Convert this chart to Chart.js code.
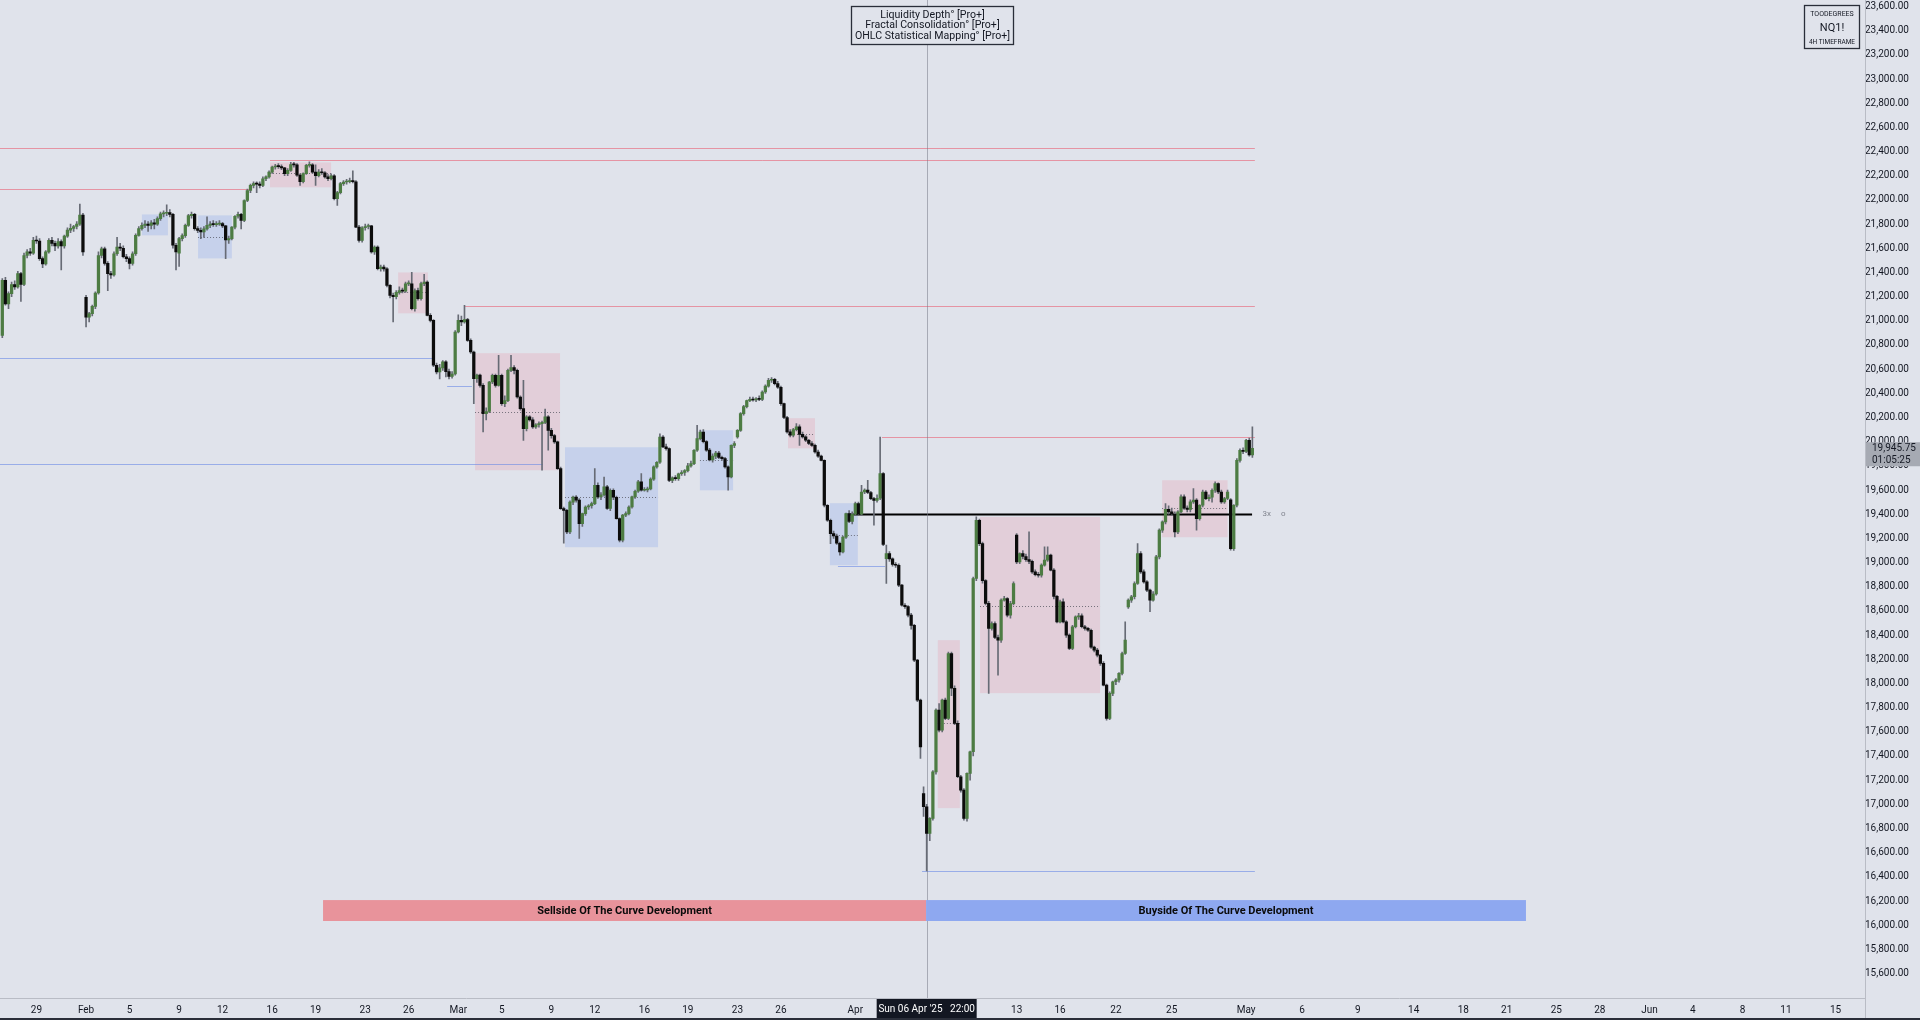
<!DOCTYPE html>
<html>
<head>
<meta charset="utf-8">
<title>NQ1! 4H</title>
<script src="https://cdn.jsdelivr.net/npm/chart.js@4.4.1/dist/chart.umd.min.js"></script>
<style>
  html, body { margin: 0; padding: 0; background: #e0e3eb; overflow: hidden; }
  #wrap { position: relative; width: 1920px; height: 1020px; }
</style>
</head>
<body>
<div id="wrap"><canvas id="chart"></canvas></div>
<script>
// 4h bars, 6 per trading day; bar 0 = Sun 26 Jan 18:00, first visible bar is #3
const FIRST_BAR = 3;

const opens = [
  20880, 21335, 21140,
  21225, 21300, 21280, 21390, 21300, 21540,
  21570, 21560, 21665, 21660, 21515, 21470,
  21570, 21665, 21640, 21620, 21655, 21620,
  21700, 21750, 21765, 21780, 21800, 21875,
  21195, 21030, 21060, 21120, 21230, 21540,
  21595, 21475, 21390, 21380, 21555, 21610,
  21600, 21530, 21515, 21475, 21555, 21707,
  21762, 21790, 21800, 21790, 21810, 21800,
  21845, 21885, 21890, 21895, 21880, 21625,
  21560, 21680, 21705, 21790, 21870, 21880,
  21762, 21748, 21735, 21760, 21790, 21800,
  21795, 21800, 21805, 21785, 21670, 21680,
  21775, 21865, 21880, 21830, 21995, 22078,
  22120, 22135, 22130, 22120, 22175, 22190,
  22230, 22272, 22280, 22275, 22265, 22217,
  22245, 22293, 22290, 22205, 22150, 22217,
  22286, 22290, 22230, 22200, 22230, 22225,
  22190, 22175, 22200, 22010, 22060, 22135,
  22148, 22150, 22160, 22150, 21775, 21665,
  21770, 21780, 21785, 21570, 21610, 21431,
  21445, 21430, 21293, 21210, 21200, 21235,
  21250, 21245, 21305, 21305, 21100, 21250,
  21183, 21307, 21320, 21045, 21003, 20632,
  20577, 20610, 20660, 20580, 20540, 20560,
  20907, 21004, 20990, 21010, 20838, 20742,
  20521, 20550, 20466, 20232, 20250, 20494,
  20548, 20466, 20549, 20315, 20340, 20590,
  20612, 20590, 20370, 20274, 20108, 20205,
  20180, 20122, 20140, 20150, 20160, 20205,
  20094, 20050, 19998, 19777, 19446, 19432,
  19254, 19500, 19542, 19516, 19322, 19405,
  19460, 19470, 19488, 19640, 19543, 19560,
  19626, 19447, 19598, 19540, 19364, 19185,
  19392, 19405, 19460, 19543, 19590, 19667,
  19598, 19600, 19610, 19690, 19791, 19830,
  20039, 19957, 19943, 19680, 19700, 19695,
  19735, 19745, 19760, 19800, 19819, 19929,
  20025, 20080, 20000, 19930, 19850, 19880,
  19905, 19870, 19860, 19791, 19708, 19970,
  20040, 20094, 20232, 20290, 20340, 20350,
  20345, 20355, 20350, 20411, 20460, 20508,
  20515, 20480, 20450, 20315, 20200, 20081,
  20053, 20100, 20122, 20060, 20040, 20012,
  19985, 19970, 19915, 19880, 19846, 19474,
  19350, 19240, 19220, 19160, 19088, 19210,
  19405, 19340, 19400, 19488, 19400, 19584,
  19600, 19580, 19529, 19515, 19532, 19736,
  19033, 19075, 19030, 18985, 18978, 18813,
  18647, 18635, 18565, 18480, 18193, 17862,
  17090, 16980, 16760, 16884, 17269, 17779,
  17614, 17862, 17710, 18248, 17960, 17670,
  17228, 17118, 16884, 17256, 17435, 18868,
  19350, 19157, 18850, 18662, 18455, 18496,
  18380, 18358, 18689, 18703, 18565, 18660,
  19227, 19006, 19075, 19050, 19025, 19010,
  18923, 18900, 18895, 18979, 19020, 19061,
  18937, 18720, 18510, 18675, 18510, 18400,
  18290, 18469, 18551, 18560, 18469, 18455,
  18440, 18300, 18276, 18234, 18166, 17986,
  17711, 17918, 18014, 18030, 18083, 18248,
  18634, 18690, 18717, 18827, 19075, 18923,
  18840, 18772, 18689, 18740, 19047, 19268,
  19337, 19440, 19420, 19400, 19254, 19419,
  19543, 19450, 19440, 19502, 19516, 19364,
  19474, 19584, 19529, 19540, 19598, 19653,
  19584, 19502, 19530, 19520, 19116, 19474,
  19846, 19929, 19920, 20012, 19890
];

const highs = [
  21350, 21360, 21240,
  21320, 21330, 21410, 21400, 21560, 21590,
  21600, 21690, 21700, 21680, 21530, 21580,
  21680, 21690, 21660, 21680, 21670, 21710,
  21770, 21800, 21790, 21820, 21965, 21890,
  21210, 21070, 21130, 21240, 21570, 21610,
  21610, 21490, 21410, 21570, 21690, 21640,
  21620, 21550, 21530, 21570, 21720, 21780,
  21810, 21830, 21820, 21830, 21840, 21860,
  21900, 21910, 21960, 21920, 21890, 21640,
  21690, 21720, 21800, 21880, 21900, 21890,
  21780, 21770, 21780, 21860, 21820, 21830,
  21820, 21830, 21815, 21790, 21700, 21780,
  21870, 21900, 21890, 22000, 22090, 22130,
  22150, 22150, 22150, 22190, 22200, 22240,
  22280, 22295, 22300, 22290, 22270, 22260,
  22310, 22310, 22300, 22215, 22225, 22295,
  22315, 22300, 22290, 22250, 22260, 22235,
  22210, 22215, 22210, 22070, 22145, 22160,
  22170, 22180, 22240, 22160, 21790, 21780,
  21800, 21800, 21790, 21620, 21620, 21460,
  21460, 21440, 21300, 21230, 21250, 21280,
  21270, 21320, 21330, 21400, 21265, 21270,
  21320, 21385, 21330, 21060, 21010, 20650,
  20640, 20670, 20670, 20600, 20580, 20920,
  21050, 21040, 21128, 21020, 20850, 20750,
  20560, 20560, 20480, 20280, 20500, 20560,
  20560, 20714, 20560, 20380, 20600, 20714,
  20630, 20600, 20380, 20508, 20215, 20215,
  20200, 20150, 20165, 20170, 20270, 20215,
  20110, 20060, 20005, 19790, 19460, 19440,
  19510, 19550, 19555, 19530, 19410, 19470,
  19480, 19500, 19777, 19660, 19580, 19708,
  19640, 19610, 19610, 19550, 19370, 19400,
  19420, 19470, 19550, 19600, 19680, 19736,
  19620, 19625, 19700, 19800, 19835, 20066,
  20050, 19980, 19950, 19710, 19720, 19740,
  19760, 19770, 19820, 19840, 19935, 20135,
  20095, 20100, 20010, 19945, 19900, 19920,
  19920, 19880, 19870, 19800, 19975, 20000,
  20100, 20240, 20300, 20345, 20370, 20370,
  20365, 20380, 20420, 20470, 20525, 20530,
  20525, 20500, 20460, 20320, 20210, 20100,
  20110, 20150, 20140, 20080, 20050, 20020,
  20000, 19980, 19930, 19890, 19850, 19480,
  19360, 19260, 19235, 19170, 19220, 19410,
  19430, 19420, 19500, 19500, 19640, 19610,
  19680, 19590, 19540, 19560, 20039, 19745,
  19144, 19090, 19040, 19000, 18990, 18820,
  18660, 18645, 18580, 18490, 18200, 17870,
  17145, 17000, 16890, 17280, 17790, 17834,
  17870, 17880, 18260, 18260, 17980, 17690,
  17240, 17130, 17260, 17440, 18880, 19378,
  19360, 19170, 18860, 18680, 18510, 18510,
  18400, 18700, 18720, 18710, 18680, 18840,
  19240, 19080, 19100, 19070, 19254, 19020,
  18940, 18920, 18990, 19130, 19130, 19070,
  18950, 18730, 18690, 18700, 18520, 18410,
  18480, 18560, 18580, 18575, 18480, 18465,
  18450, 18310, 18290, 18240, 18180, 17995,
  17930, 18020, 18040, 18090, 18260, 18510,
  18700, 18730, 18840, 19158, 19090, 18940,
  18850, 18780, 18760, 19060, 19280, 19345,
  19488, 19470, 19450, 19420, 19430, 19560,
  19560, 19470, 19520, 19612, 19530, 19480,
  19600, 19595, 19560, 19610, 19667, 19660,
  19600, 19540, 19600, 19530, 19480, 19860,
  19940, 19950, 20020, 20030, 20122
];

const lows = [
  20860, 21130, 21100,
  21200, 21260, 21270, 21160, 21290, 21520,
  21540, 21550, 21640, 21500, 21440, 21460,
  21560, 21620, 21580, 21600, 21420, 21600,
  21690, 21730, 21740, 21760, 21790, 21540,
  20950, 20990, 21040, 21100, 21220, 21520,
  21460, 21250, 21350, 21370, 21540, 21580,
  21520, 21490, 21430, 21460, 21540, 21700,
  21750, 21770, 21740, 21760, 21760, 21790,
  21830, 21860, 21870, 21860, 21600, 21420,
  21450, 21660, 21690, 21780, 21850, 21750,
  21730, 21680, 21690, 21750, 21770, 21780,
  21780, 21790, 21770, 21515, 21640, 21670,
  21760, 21850, 21760, 21820, 21985, 22060,
  22100, 22060, 22100, 22110, 22160, 22180,
  22220, 22255, 22260, 22250, 22200, 22200,
  22235, 22270, 22195, 22120, 22140, 22210,
  22270, 22220, 22120, 22190, 22210, 22180,
  22160, 22165, 22000, 21955, 22050, 22120,
  22130, 22140, 22140, 21770, 21650, 21650,
  21750, 21760, 21560, 21550, 21420, 21410,
  21410, 21280, 21190, 20990, 21180, 21220,
  21230, 21235, 21290, 21090, 21080, 21170,
  21170, 21290, 21040, 20990, 20620, 20560,
  20520, 20590, 20535, 20520, 20525, 20550,
  20900, 20960, 20980, 20830, 20730, 20315,
  20490, 20450, 20080, 20180, 20240, 20480,
  20450, 20460, 20300, 20290, 20330, 20580,
  20560, 20360, 20260, 20010, 20090, 20170,
  20110, 20110, 20120, 19765, 20150, 19930,
  20030, 19985, 19770, 19440, 19160, 19240,
  19240, 19480, 19500, 19200, 19300, 19390,
  19440, 19450, 19480, 19530, 19520, 19550,
  19440, 19430, 19520, 19360, 19170, 19170,
  19380, 19395, 19450, 19530, 19580, 19590,
  19590, 19585, 19600, 19680, 19780, 19820,
  19950, 19930, 19670, 19660, 19680, 19680,
  19720, 19720, 19750, 19790, 19810, 19920,
  20015, 19990, 19920, 19840, 19830, 19860,
  19860, 19845, 19780, 19598, 19700, 19950,
  20030, 20085, 20220, 20280, 20330, 20335,
  20330, 20340, 20340, 20400, 20450, 20490,
  20470, 20440, 20300, 20190, 20070, 20040,
  20040, 20090, 19970, 20030, 20000, 19975,
  19960, 19905, 19870, 19840, 19460, 19340,
  19157, 19200, 19150, 19061, 19080, 19200,
  19330, 19320, 19390, 19390, 19390, 19570,
  19570, 19520, 19310, 19500, 19520, 19140,
  18827, 19010, 18970, 18960, 18800, 18640,
  18620, 18550, 18450, 18180, 17850, 17380,
  16900, 16450, 16700, 16870, 17250, 17600,
  17600, 17700, 17700, 17900, 17660, 17220,
  17100, 16870, 16860, 17200, 17400, 18850,
  19140, 18830, 18650, 17918, 18440, 18370,
  18069, 18340, 18680, 18550, 18540, 18650,
  18990, 18990, 19030, 19010, 18990, 18910,
  18890, 18880, 18880, 18970, 19010, 18930,
  18700, 18500, 18500, 18500, 18380, 18280,
  18280, 18460, 18530, 18460, 18440, 18430,
  18290, 18260, 18220, 18150, 17980, 17697,
  17700, 17900, 17990, 18010, 18070, 18240,
  18620, 18670, 18700, 18820, 18910, 18830,
  18760, 18593, 18680, 18730, 19030, 19250,
  19320, 19400, 19390, 19213, 19240, 19410,
  19440, 19420, 19420, 19490, 19268, 19350,
  19460, 19520, 19510, 19500, 19580, 19570,
  19490, 19490, 19520, 19102, 19100, 19460,
  19830, 19900, 19910, 19880, 19870
];

const closes = [
  21335, 21140, 21225,
  21300, 21280, 21390, 21300, 21540, 21570,
  21560, 21665, 21660, 21515, 21470, 21570,
  21665, 21640, 21620, 21655, 21620, 21700,
  21750, 21765, 21780, 21800, 21875, 21570,
  21030, 21060, 21120, 21230, 21540, 21595,
  21475, 21390, 21380, 21555, 21610, 21600,
  21530, 21515, 21475, 21555, 21707, 21762,
  21790, 21800, 21790, 21810, 21800, 21845,
  21885, 21890, 21895, 21880, 21625, 21570,
  21680, 21705, 21790, 21870, 21880, 21762,
  21748, 21735, 21760, 21790, 21800, 21795,
  21800, 21805, 21785, 21670, 21680, 21775,
  21865, 21880, 21830, 21995, 22078, 22120,
  22135, 22130, 22120, 22175, 22190, 22230,
  22272, 22280, 22275, 22265, 22217, 22245,
  22293, 22290, 22205, 22150, 22217, 22286,
  22290, 22230, 22200, 22230, 22225, 22190,
  22175, 22200, 22010, 22060, 22135, 22148,
  22150, 22160, 22150, 21775, 21665, 21770,
  21780, 21785, 21570, 21610, 21431, 21445,
  21430, 21293, 21210, 21200, 21235, 21250,
  21245, 21305, 21305, 21100, 21250, 21183,
  21307, 21320, 21045, 21003, 20632, 20577,
  20610, 20660, 20580, 20540, 20560, 20907,
  21004, 20990, 21010, 20838, 20742, 20521,
  20550, 20466, 20232, 20250, 20494, 20548,
  20466, 20549, 20315, 20340, 20590, 20612,
  20590, 20370, 20274, 20108, 20205, 20180,
  20122, 20140, 20150, 20160, 20205, 20094,
  20050, 19998, 19777, 19446, 19432, 19254,
  19500, 19542, 19516, 19322, 19405, 19460,
  19470, 19488, 19640, 19543, 19560, 19626,
  19447, 19598, 19540, 19364, 19185, 19392,
  19405, 19460, 19543, 19590, 19667, 19598,
  19600, 19610, 19690, 19791, 19830, 20039,
  19957, 19943, 19680, 19700, 19695, 19735,
  19745, 19760, 19800, 19819, 19929, 20025,
  20080, 20000, 19930, 19850, 19880, 19905,
  19870, 19860, 19791, 19708, 19970, 19985,
  20094, 20232, 20290, 20340, 20350, 20345,
  20355, 20350, 20411, 20460, 20508, 20515,
  20480, 20450, 20315, 20200, 20081, 20053,
  20100, 20122, 20060, 20040, 20012, 19985,
  19970, 19915, 19880, 19846, 19474, 19350,
  19240, 19220, 19160, 19088, 19210, 19405,
  19340, 19400, 19488, 19400, 19584, 19600,
  19580, 19529, 19515, 19532, 19736, 19150,
  19075, 19030, 18985, 18978, 18813, 18647,
  18635, 18565, 18480, 18193, 17862, 17476,
  16980, 16760, 16884, 17269, 17779, 17614,
  17862, 17710, 18248, 17960, 17670, 17228,
  17118, 16884, 17256, 17435, 18868, 19350,
  19157, 18850, 18662, 18455, 18496, 18380,
  18358, 18689, 18703, 18565, 18660, 18827,
  19006, 19075, 19050, 19025, 19010, 18923,
  18900, 18895, 18979, 19020, 19061, 18937,
  18720, 18510, 18675, 18510, 18400, 18290,
  18469, 18551, 18560, 18469, 18455, 18440,
  18300, 18276, 18234, 18166, 17986, 17711,
  17918, 18014, 18030, 18083, 18248, 18358,
  18690, 18717, 18827, 19075, 18923, 18840,
  18772, 18689, 18740, 19047, 19268, 19337,
  19440, 19420, 19400, 19254, 19419, 19543,
  19450, 19440, 19502, 19516, 19364, 19474,
  19584, 19529, 19540, 19598, 19653, 19584,
  19502, 19530, 19584, 19116, 19474, 19846,
  19929, 19920, 20012, 19890, 19945.75
];

// time axis labels (bar index -> text)
const timeTicks = [14, 30, 44, 60, 74, 90, 104, 120, 134, 150, 164, 180, 194, 210, 224, 240, 254, 278,
                   330, 344, 362, 380, 404, 422, 440, 458, 474, 488, 504, 518, 534, 548, 564, 578, 594];
const timeLabels = ['29', 'Feb', '5', '9', '12', '16', '19', '23', '26', 'Mar', '5', '9', '12', '16', '19', '23', '26', 'Apr',
                    '13', '16', '22', '25', 'May', '6', '9', '14', '18', '21', '25', '28', 'Jun', '4', '8', '11', '15'];

const priceTicks = [15600, 15800, 16000, 16200, 16400, 16600, 16800, 17000, 17200, 17400, 17600, 17800,
                    18000, 18200, 18400, 18600, 18800, 19000, 19200, 19400, 19600, 19800, 20000, 20200,
                    20400, 20600, 20800, 21000, 21200, 21400, 21600, 21800, 22000, 22200, 22400, 22600,
                    22800, 23000, 23200, 23400, 23600];

// consolidation zones (bar index range, price range, midline)
const zoneStart = [89.3, 48, 66.1, 130.6, 155.4, 184.4, 227.9, 256.3, 269.8, 304.6, 318.2, 376.9];
const zoneEnd   = [109, 56.4, 77, 140.2, 182.8, 214.4, 238.6, 265, 278.8, 311.7, 356.9, 398];
const zoneHigh  = [22310, 21880, 21872, 21400, 20732, 19954, 20095, 20194, 19491, 18358, 19378, 19681];
const zoneLow   = [22104, 21707, 21516, 21062, 19764, 19127, 19598, 19945, 18978, 16969, 17920, 19210];
const zoneMid   = [22220, null, 21690, 21235, 20243, 19540, 19846, 20061, 19226, 17672, 18640, 19450];
const zoneKind  = ['sell', 'buy', 'buy', 'sell', 'sell', 'buy', 'buy', 'sell', 'buy', 'sell', 'sell', 'sell'];

// liquidity levels
const levelPrice = [22426, 22327, 22093, 20693, 19813, 20458, 21120, 20039, 18970, 16452, 19400];
const levelStart = [2, 89.3, 2, 2, 2, 146.4, 152.2, 286.6, 272.4, 299.5, 275.6];
const levelEnd   = [406.8, 406.8, 82.8, 141.8, 177.3, 154.4, 406.8, 406.8, 287.6, 406.8, 405.9];
const levelKind  = ['sell', 'sell', 'sell', 'buy', 'buy', 'buy', 'sell', 'sell', 'buy', 'buy', 'key'];

// curve development bands
const bandStart = [106.4, 300.8];
const bandEnd = [300.8, 494.2];
const bandHigh = 16208;
const bandLow = 16035;
const bandText = ['Sellside Of The Curve Development', 'Buyside Of The Curve Development'];

const crossBar = 301;
const crossText = "Sun 06 Apr '25   22:00";
const lastPrice = 19945.75;
const countdown = '01:05:25';

const BG = '#e0e3eb';
const UP = '#4d7c43';
const DOWN = '#0c0c0c';
const WICK = '#676b75';

if (opens.length !== closes.length || highs.length !== closes.length || lows.length !== closes.length) {
    console.error('OHLC length mismatch', opens.length, highs.length, lows.length, closes.length);
}

const bodyData = closes.map((c, k) => ({ x: FIRST_BAR + k, y: [opens[k], c] }));
const wickData = closes.map((c, k) => ({ x: FIRST_BAR + k, y: [lows[k], highs[k]] }));
const bodyColors = closes.map((c, k) => c >= opens[k] ? UP : DOWN);

function fmtPrice(v) {
    return v.toLocaleString('en-US', { minimumFractionDigits: 2, maximumFractionDigits: 2 });
}

/** zones, levels and crosshair go behind the candles */
const overlay = {
    id: 'overlay',
    beforeDatasetsDraw(chart) {
        const { ctx, chartArea: a, scales: { x, y } } = chart;
        ctx.save();
        ctx.beginPath();
        ctx.rect(a.left, 0, a.right - a.left, a.bottom);
        ctx.clip();

        zoneStart.forEach((s, k) => {
            const x0 = x.getPixelForValue(s);
            const x1 = x.getPixelForValue(zoneEnd[k]);
            const y0 = y.getPixelForValue(zoneHigh[k]);
            const y1 = y.getPixelForValue(zoneLow[k]);
            ctx.fillStyle = zoneKind[k] === 'sell' ? 'rgba(236, 105, 128, 0.17)' : 'rgba(95, 138, 235, 0.2)';
            ctx.fillRect(x0, y0, x1 - x0, y1 - y0);
            if (zoneMid[k] !== null) {
                const ym = Math.round(y.getPixelForValue(zoneMid[k])) + 0.5;
                ctx.strokeStyle = 'rgba(80, 82, 92, 0.75)';
                ctx.lineWidth = 1;
                ctx.setLineDash([1, 2]);
                ctx.beginPath();
                ctx.moveTo(x0, ym);
                ctx.lineTo(x1, ym);
                ctx.stroke();
                ctx.setLineDash([]);
            }
        });

        levelPrice.forEach((p, k) => {
            const yy = Math.round(y.getPixelForValue(p)) + 0.5;
            const x0 = x.getPixelForValue(levelStart[k]);
            const x1 = x.getPixelForValue(levelEnd[k]);
            if (levelKind[k] === 'key') {
                ctx.strokeStyle = '#000000';
                ctx.lineWidth = 2;
            } else {
                ctx.strokeStyle = levelKind[k] === 'sell' ? 'rgba(232, 95, 115, 0.6)' : 'rgba(95, 130, 230, 0.55)';
                ctx.lineWidth = 1;
            }
            ctx.beginPath();
            ctx.moveTo(x0, yy);
            ctx.lineTo(x1, yy);
            ctx.stroke();
        });

        // crosshair vertical
        const cx = Math.round(x.getPixelForValue(crossBar)) + 0.5;
        ctx.strokeStyle = 'rgba(120, 124, 136, 0.55)';
        ctx.lineWidth = 1;
        ctx.beginPath();
        ctx.moveTo(cx, 0);
        ctx.lineTo(cx, a.bottom);
        ctx.stroke();
        ctx.restore();
    },
    afterDraw(chart) {
        const { ctx, chartArea: a, scales: { x, y } } = chart;
        ctx.save();

        // bands
        bandStart.forEach((s, k) => {
            const x0 = x.getPixelForValue(s);
            const x1 = x.getPixelForValue(bandEnd[k]);
            const y0 = y.getPixelForValue(bandHigh);
            const y1 = y.getPixelForValue(bandLow);
            ctx.fillStyle = k === 0 ? '#e8939b' : '#8ea8f0';
            ctx.fillRect(x0, y0, x1 - x0, y1 - y0);
            ctx.fillStyle = '#0b0b0b';
            ctx.font = 'bold 11px Roboto, "Noto Sans", sans-serif';
            ctx.textAlign = 'center';
            ctx.textBaseline = 'middle';
            ctx.fillText(bandText[k], (x0 + x1) / 2, (y0 + y1) / 2 + 0.5);
        });

        // small tags after the key level
        const ky = y.getPixelForValue(19400);
        ctx.fillStyle = '#80848e';
        ctx.font = '8px Roboto, sans-serif';
        ctx.textAlign = 'left';
        ctx.textBaseline = 'middle';
        ctx.fillText('3x', x.getPixelForValue(409.3), ky);
        ctx.fillText('o', x.getPixelForValue(415.2), ky);

        // indicator legend box
        ctx.fillStyle = BG;
        ctx.fillRect(851, 6, 163, 39);
        ctx.strokeStyle = '#2a2e39';
        ctx.lineWidth = 1.3;
        ctx.strokeRect(851.5, 6.5, 162, 38);
        ctx.fillStyle = '#131722';
        ctx.font = '10.6px Roboto, "Noto Sans", sans-serif';
        ctx.textAlign = 'center';
        ctx.fillText('Liquidity Depth\u00b0 [Pro+]', 932.5, 15);
        ctx.fillText('Fractal Consolidation\u00b0 [Pro+]', 932.5, 25.5);
        ctx.fillText('OHLC Statistical Mapping\u00b0 [Pro+]', 932.5, 36);

        // symbol box
        ctx.strokeRect(1804.5, 5.5, 55, 43);
        ctx.font = '7px Roboto, sans-serif';
        ctx.fillText('TOODEGREES', 1832, 14);
        ctx.font = '11px Roboto, sans-serif';
        ctx.fillText('NQ1!', 1832, 28);
        ctx.font = '6.5px Roboto, sans-serif';
        ctx.fillText('4H TIMEFRAME', 1832, 42);

        // last price label
        const py = y.getPixelForValue(lastPrice);
        ctx.fillStyle = '#a6aab3';
        ctx.fillRect(a.right + 1, py - 6, 1920 - a.right - 1, 24);
        ctx.fillStyle = '#161a25';
        ctx.font = '10px Roboto, sans-serif';
        ctx.textAlign = 'left';
        ctx.fillText(fmtPrice(lastPrice), a.right + 7, py + 0.5);
        ctx.fillText(countdown, a.right + 7, py + 12);

        // crosshair time label
        const cx = x.getPixelForValue(crossBar);
        ctx.fillStyle = '#131722';
        ctx.fillRect(cx - 50, a.bottom + 1, 100, 20);
        ctx.fillStyle = '#ffffff';
        ctx.textAlign = 'center';
        ctx.font = '10px Roboto, sans-serif';
        ctx.fillText(crossText, cx, a.bottom + 11.5);

        // frame
        ctx.strokeStyle = '#b9bcc5';
        ctx.lineWidth = 1;
        ctx.beginPath();
        ctx.moveTo(a.right + 0.5, 0);
        ctx.lineTo(a.right + 0.5, 1020);
        ctx.stroke();
        ctx.fillStyle = '#2a2e39';
        ctx.fillRect(0, 1018, 1920, 2);
        ctx.restore();
    }
};

Chart.defaults.font.family = 'Roboto, "Noto Sans", sans-serif';
Chart.defaults.color = '#131722';

const chart = new Chart(document.getElementById('chart'), {
    type: 'bar',
    data: {
        datasets: [
            { label: 'wicks', data: wickData, backgroundColor: WICK, barThickness: 1, grouped: false, order: 2 },
            { label: 'bodies', data: bodyData, backgroundColor: bodyColors, barThickness: 2.6,
              minBarLength: 1, grouped: false, order: 1 }
        ]
    },
    options: {
        responsive: true,
        maintainAspectRatio: false,
        animation: false,
        devicePixelRatio: 1,
        layout: { padding: 0 },
        plugins: { legend: { display: false }, tooltip: { enabled: false } },
        scales: {
            x: {
                type: 'linear',
                position: 'bottom',
                min: 2.257,
                max: 603.5,
                offset: false,
                grid: { display: false, drawTicks: false },
                border: { display: true, color: '#b9bcc5' },
                ticks: {
                    autoSkip: false,
                    maxRotation: 0,
                    padding: 6,
                    font: { size: 10 },
                    color: '#131722',
                    callback: (v) => {
                        const k = timeTicks.indexOf(v);
                        return k >= 0 ? timeLabels[k] : '';
                    }
                },
                afterBuildTicks: (s) => { s.ticks = timeTicks.map(v => ({ value: v })); },
                afterFit: (s) => { s.height = 22; }
            },
            y: {
                position: 'right',
                min: 15398,
                max: 23600,
                grid: { display: false, drawTicks: false },
                border: { display: false },
                ticks: {
                    autoSkip: false,
                    padding: 0,
                    crossAlign: 'center',
                    font: { size: 10, lineHeight: 1.3 },
                    color: '#131722',
                    callback: (v) => fmtPrice(v)
                },
                afterBuildTicks: (s) => { s.ticks = priceTicks.map(v => ({ value: v })); },
                afterFit: (s) => { s.width = 55; }
            }
        }
    },
    plugins: [overlay]
});
</script>
</body>
</html>
